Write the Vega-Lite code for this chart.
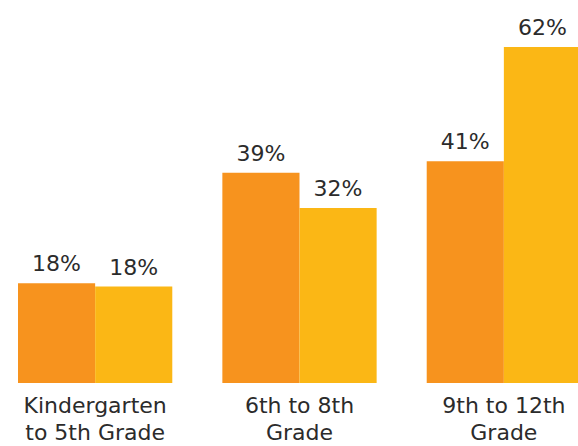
{
  "$schema": "https://vega.github.io/schema/vega-lite/v6.json",
  "width": 578,
  "height": 383,
  "padding": {"left": 0, "top": 0, "right": 0, "bottom": 63},
  "autosize": "none",
  "background": "white",
  "config": {"view": {"stroke": null}, "font": "DejaVu Sans"},
  "data": {"values": [
    {"grade": "Kindergarten|to 5th Grade", "series": "A", "value": 18.4, "label": "18%"},
    {"grade": "Kindergarten|to 5th Grade", "series": "B", "value": 17.8, "label": "18%"},
    {"grade": "6th to 8th|Grade", "series": "A", "value": 38.8, "label": "39%"},
    {"grade": "6th to 8th|Grade", "series": "B", "value": 32.3, "label": "32%"},
    {"grade": "9th to 12th|Grade", "series": "A", "value": 40.9, "label": "41%"},
    {"grade": "9th to 12th|Grade", "series": "B", "value": 62, "label": "62%"}
  ]},
  "encoding": {
    "x": {"field": "grade", "type": "nominal", "sort": null,
      "scale": {"range": [18, 581], "paddingInner": 0.245, "paddingOuter": 0},
      "axis": {"title": null, "domain": false, "ticks": false, "labelAngle": 0,
        "labelExpr": "split(datum.label, '|')", "labelFontSize": 22, "labelColor": "#2b2b2b",
        "labelPadding": 12, "labelLineHeight": 27, "labelBaseline": "top", "labelFont": "DejaVu Sans"}},
    "xOffset": {"field": "series", "type": "nominal", "scale": {"paddingInner": 0, "paddingOuter": 0}},
    "y": {"field": "value", "type": "quantitative", "scale": {"domain": [0, 70.67], "nice": false}, "axis": null}
  },
  "layer": [
    {"mark": {"type": "bar"},
     "encoding": {"color": {"field": "series", "type": "nominal", "legend": null,
       "scale": {"domain": ["A", "B"], "range": ["#F7931E", "#FBB715"]}}}},
    {"mark": {"type": "text", "baseline": "alphabetic", "dy": -12, "fontSize": 22, "color": "#2b2b2b"},
     "encoding": {"text": {"field": "label"}}}
  ]
}
